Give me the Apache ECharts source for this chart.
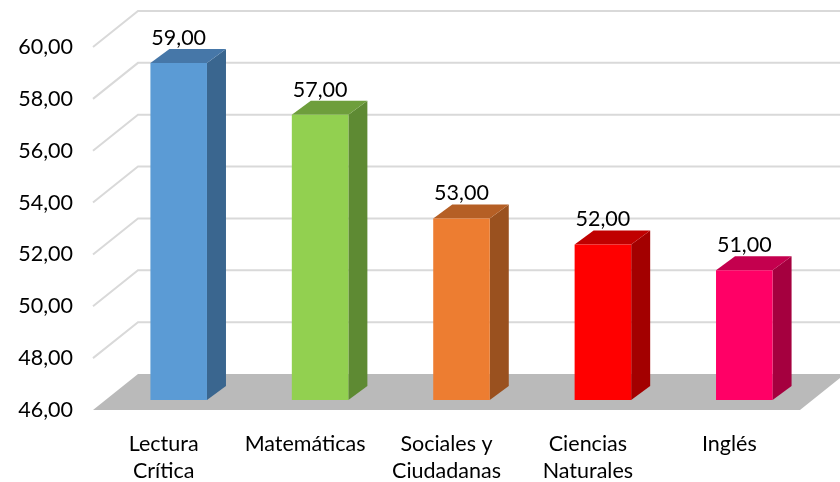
<!DOCTYPE html>
<html>
<head>
<meta charset="utf-8">
<script src="https://cdn.jsdelivr.net/npm/echarts@6/dist/echarts.min.js"></script>
<style>
  html, body { margin: 0; padding: 0; background: #fff; }
  #chart { width: 840px; height: 482px; }
</style>
</head>
<body>
<div id="chart"></div>
<script>
// data
var categories = ['Lectura\nCrítica', 'Matemáticas', 'Sociales y\nCiudadanas', 'Ciencias\nNaturales', 'Inglés'];
var scores = [59, 57, 53, 52, 51];
var gridTicks = [48, 50, 52, 54, 56, 58, 60];
var faceColors = ['#5B9BD5', '#92D050', '#ED7D31', '#FF0000', '#FF0066'];
var topColors = ['#4677A8', '#6E9E3C', '#B55F25', '#C00000', '#C4004E'];
var sideColors = ['#3A668F', '#5E8A33', '#9A511F', '#A30000', '#A5003F'];

var Y_MIN = 46, Y_MAX = 60;
// pseudo 3d offsets in pixels (x, y)
var WALL = [45, -36];   // front axis plane -> back wall
var FRONT = [15, -10];  // front axis plane -> bar front face
var DEPTH = [19, -14];  // bar depth

function fmt(v) {
  return v.toFixed(2).replace('.', ',');
}

var chart = echarts.init(document.getElementById('chart'));

var option = {
  animation: false,
  grid: { left: 93, right: 40, top: 47, bottom: 72, outerBoundsMode: 'none' },
  xAxis: {
    type: 'category',
    data: categories,
    axisLine: { show: false },
    axisTick: { show: false },
    axisLabel: {
      interval: 0,
      margin: 21,
      fontFamily: 'Lato',
      fontSize: 21.5,
      color: '#000',
      lineHeight: 27
    }
  },
  yAxis: {
    type: 'value',
    min: Y_MIN,
    max: Y_MAX,
    interval: 2,
    axisLine: { show: false },
    axisTick: { show: false },
    splitLine: { show: false },
    axisLabel: {
      margin: 20,
      fontFamily: 'Lato',
      fontSize: 21.5,
      color: '#000',
      padding: [10, 0, 0, 0],
      formatter: fmt
    }
  },
  series: [
    {
      // slanted side wall + back wall gridlines
      type: 'custom',
      z: 1,
      data: gridTicks.map(function (v) { return [0, v]; }),
      renderItem: function (params, api) {
        var cs = params.coordSys;
        var y = api.coord([0, api.value(1)])[1];
        return {
          type: 'polyline',
          shape: {
            points: [
              [cs.x, y],
              [cs.x + WALL[0], y + WALL[1]],
              [cs.x + cs.width + WALL[0], y + WALL[1]]
            ]
          },
          style: { stroke: '#D9D9D9', lineWidth: 2, fill: null }
        };
      }
    },
    {
      // floor
      type: 'custom',
      z: 2,
      data: [[0, Y_MIN]],
      renderItem: function (params, api) {
        var cs = params.coordSys;
        var y = api.coord([0, api.value(1)])[1];
        return {
          type: 'polygon',
          shape: {
            points: [
              [cs.x, y],
              [cs.x + WALL[0], y + WALL[1]],
              [cs.x + cs.width + WALL[0], y + WALL[1]],
              [cs.x + cs.width, y]
            ]
          },
          style: { fill: '#BABABA' }
        };
      }
    },
    {
      // 3d bars
      type: 'custom',
      z: 3,
      data: scores.map(function (v, i) { return [i, v]; }),
      renderItem: function (params, api) {
        var i = api.value(0);
        var top = api.coord([i, api.value(1)]);
        var base = api.coord([i, Y_MIN]);
        var w = api.size([1, 0])[0] * 0.4;
        var x0 = top[0] - w / 2 + FRONT[0];
        var x1 = x0 + w;
        var yt = top[1] + FRONT[1];
        var yb = base[1] + FRONT[1];
        var dx = DEPTH[0], dy = DEPTH[1];
        return {
          type: 'group',
          children: [
            {
              type: 'polygon',
              shape: { points: [[x1, yb], [x1 + dx, yb + dy], [x1 + dx, yt + dy], [x1, yt]] },
              style: { fill: sideColors[i] }
            },
            {
              type: 'polygon',
              shape: { points: [[x0, yt], [x0 + dx, yt + dy], [x1 + dx, yt + dy], [x1, yt]] },
              style: { fill: topColors[i] }
            },
            {
              type: 'rect',
              shape: { x: x0, y: yt, width: w, height: yb - yt },
              style: { fill: faceColors[i] }
            },
            {
              type: 'text',
              x: (x0 + x1) / 2,
              y: yt - 25,
              style: {
                text: fmt(api.value(1)),
                fontFamily: 'Lato',
                fontSize: 21.5,
                fill: '#000',
                align: 'center',
                verticalAlign: 'middle'
              }
            }
          ]
        };
      }
    }
  ]
};

chart.setOption(option);
</script>
</body>
</html>
